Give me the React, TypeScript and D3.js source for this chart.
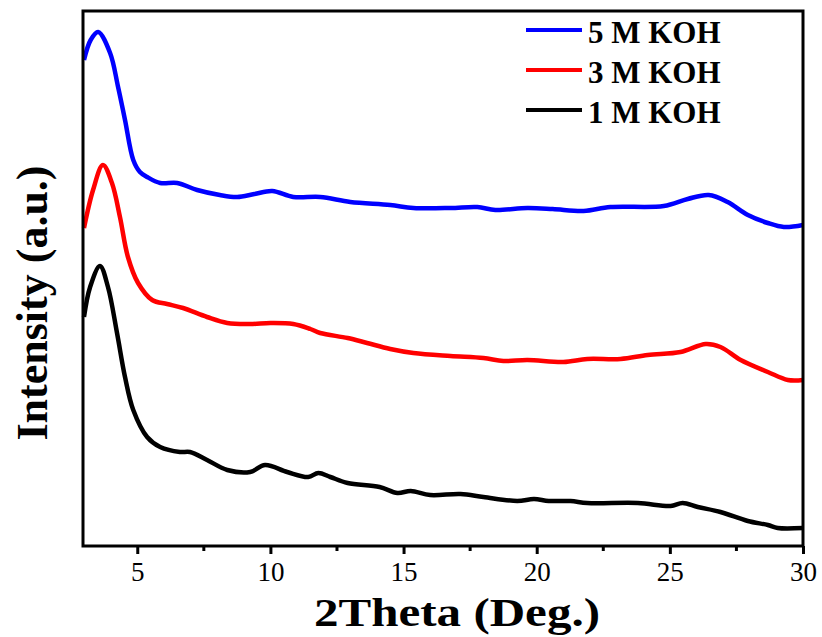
import * as d3 from 'd3';
import React, { useEffect, useRef } from 'react';

// 2Theta positions (deg) and intensities (a.u.)
const koh5Theta = [3, 3.25, 3.53, 3.98, 4.28, 4.54, 4.85, 5.1, 5.37, 5.86, 6.5, 7.25, 8.1, 8.75, 9.4, 10.07, 10.86, 11.87, 13.0, 14.5, 15.37, 16.76, 17.77, 18.45, 19.65, 20.6, 21.76, 22.77, 24.77, 25.67, 26.46, 27.17, 27.93, 28.68, 29.28, 30];
const koh5Int = [486, 506, 514, 493, 459, 426, 386, 374, 369, 363, 363, 356, 351, 349, 352, 355, 349, 349, 344, 341, 338, 338, 339, 336, 338, 337, 335, 339, 340, 347, 351, 344, 331, 323, 319, 321];

const koh3Theta = [3, 3.34, 3.71, 4.05, 4.35, 4.65, 5.03, 5.56, 6.12, 6.72, 7.62, 8.38, 9.24, 10.0, 10.86, 11.5, 11.87, 12.9, 13.63, 14.5, 15.37, 16.76, 18.0, 18.75, 19.65, 21.0, 21.9, 23.15, 24.17, 25.4, 26.35, 26.9, 27.66, 28.68, 29.43, 30];
const koh3Int = [318, 356, 381, 363, 329, 289, 263, 246, 242, 238, 229, 223, 222, 223, 222, 217, 213, 208, 203, 197, 193, 190, 188, 185, 186, 184, 187, 187, 191, 194, 202, 199, 186, 174, 166, 166];

const koh1Theta = [3, 3.23, 3.6, 3.9, 4.24, 4.54, 4.85, 5.37, 5.86, 6.6, 6.98, 7.62, 8.38, 9.24, 9.8, 10.63, 11.42, 11.8, 12.25, 12.9, 14.1, 14.77, 15.27, 16.0, 17.14, 18.0, 19.27, 19.9, 20.45, 21.27, 21.9, 23.8, 25.03, 25.48, 26.05, 26.9, 27.93, 28.68, 29.05, 30];
const koh1Int = [229, 259, 280, 259, 213, 169, 136, 109, 99, 94, 94, 86, 76, 74, 81, 74, 69, 73, 69, 63, 59, 53, 55, 51, 52, 49, 45, 47, 45, 45, 43, 43, 40, 43, 39, 34, 25, 21, 18, 18];

const seriesNames = ['5 M KOH', '3 M KOH', '1 M KOH'];
const seriesColors = ['#0000ff', '#ff0000', '#000000'];
const xTicks = [5, 10, 15, 20, 25, 30];
const xMinorTicks = [7.5, 12.5, 17.5, 22.5, 27.5];

const W = 822, H = 637;
const margin = { top: 11, right: 19, bottom: 91, left: 84 };

const App = () => {
  const ref = useRef<SVGSVGElement>(null);

  useEffect(() => {
    const svg = d3.select(ref.current);
    svg.selectAll('*').remove();

    const x = d3.scaleLinear().domain([3, 30]).range([margin.left, W - margin.right]);
    const y = d3.scaleLinear().domain([0, 535]).range([H - margin.bottom, margin.top]);

    const series = [
      d3.zip(koh5Theta, koh5Int),
      d3.zip(koh3Theta, koh3Int),
      d3.zip(koh1Theta, koh1Int),
    ];

    const line = d3.line<number[]>()
      .x(d => x(d[0]))
      .y(d => y(d[1]))
      .curve(d3.curveCatmullRom.alpha(0.5));

    svg.append('g').selectAll('path').data(series).join('path')
      .attr('fill', 'none')
      .attr('stroke', (d, i) => seriesColors[i])
      .attr('stroke-width', 4.5)
      .attr('stroke-linejoin', 'round')
      .attr('d', d => line(d));

    // frame
    svg.append('rect')
      .attr('x', margin.left - 1).attr('y', margin.top)
      .attr('width', W - margin.right - margin.left + 1)
      .attr('height', H - margin.bottom - margin.top)
      .attr('fill', 'none').attr('stroke', '#000').attr('stroke-width', 3);

    const xAxis = svg.append('g')
      .attr('transform', `translate(0,${H - margin.bottom})`)
      .call(d3.axisBottom(x).tickValues(xTicks).tickSize(8).tickPadding(8).tickFormat(d3.format('d')));
    xAxis.select('.domain').remove();
    xAxis.selectAll('line').attr('stroke-width', 3);
    xAxis.selectAll('text')
      .style('font-family', '"Liberation Serif", "Times New Roman", serif')
      .style('font-size', '27px').attr('fill', '#000');

    svg.append('g').selectAll('line').data(xMinorTicks).join('line')
      .attr('x1', d => x(d)).attr('x2', d => x(d))
      .attr('y1', H - margin.bottom).attr('y2', H - margin.bottom + 5)
      .attr('stroke', '#000').attr('stroke-width', 3);

    const titleFont = '"Liberation Serif", "Times New Roman", serif';

    svg.append('text')
      .attr('x', 457)
      .attr('y', 626)
      .attr('text-anchor', 'middle')
      .attr('textLength', 286)
      .attr('lengthAdjust', 'spacingAndGlyphs')
      .style('font-family', titleFont)
      .style('font-weight', 'bold')
      .style('font-size', '40px')
      .text('2Theta (Deg.)');

    svg.append('text')
      .attr('transform', 'translate(47,303) rotate(-90)')
      .attr('text-anchor', 'middle')
      .style('font-family', titleFont)
      .style('font-weight', 'bold')
      .style('font-size', '44px')
      .text('Intensity (a.u.)');

    const legend = svg.append('g');
    const rows = legend.selectAll('g').data(seriesNames).join('g')
      .attr('transform', (d, i) => `translate(526,${30 + i * 40})`);
    rows.append('line')
      .attr('x1', 0).attr('x2', 56).attr('y1', 0).attr('y2', 0)
      .attr('stroke', (d, i) => seriesColors[i]).attr('stroke-width', 4);
    rows.append('text')
      .attr('x', 62).attr('y', 13)
      .style('font-family', titleFont)
      .style('font-weight', 'bold')
      .style('font-size', '31px')
      .text(d => d);
  }, []);

  return (
    <svg ref={ref} width={W} height={H} style={{ position: 'absolute', left: 0, top: 0, background: '#fff' }} />
  );
};

export default App;
